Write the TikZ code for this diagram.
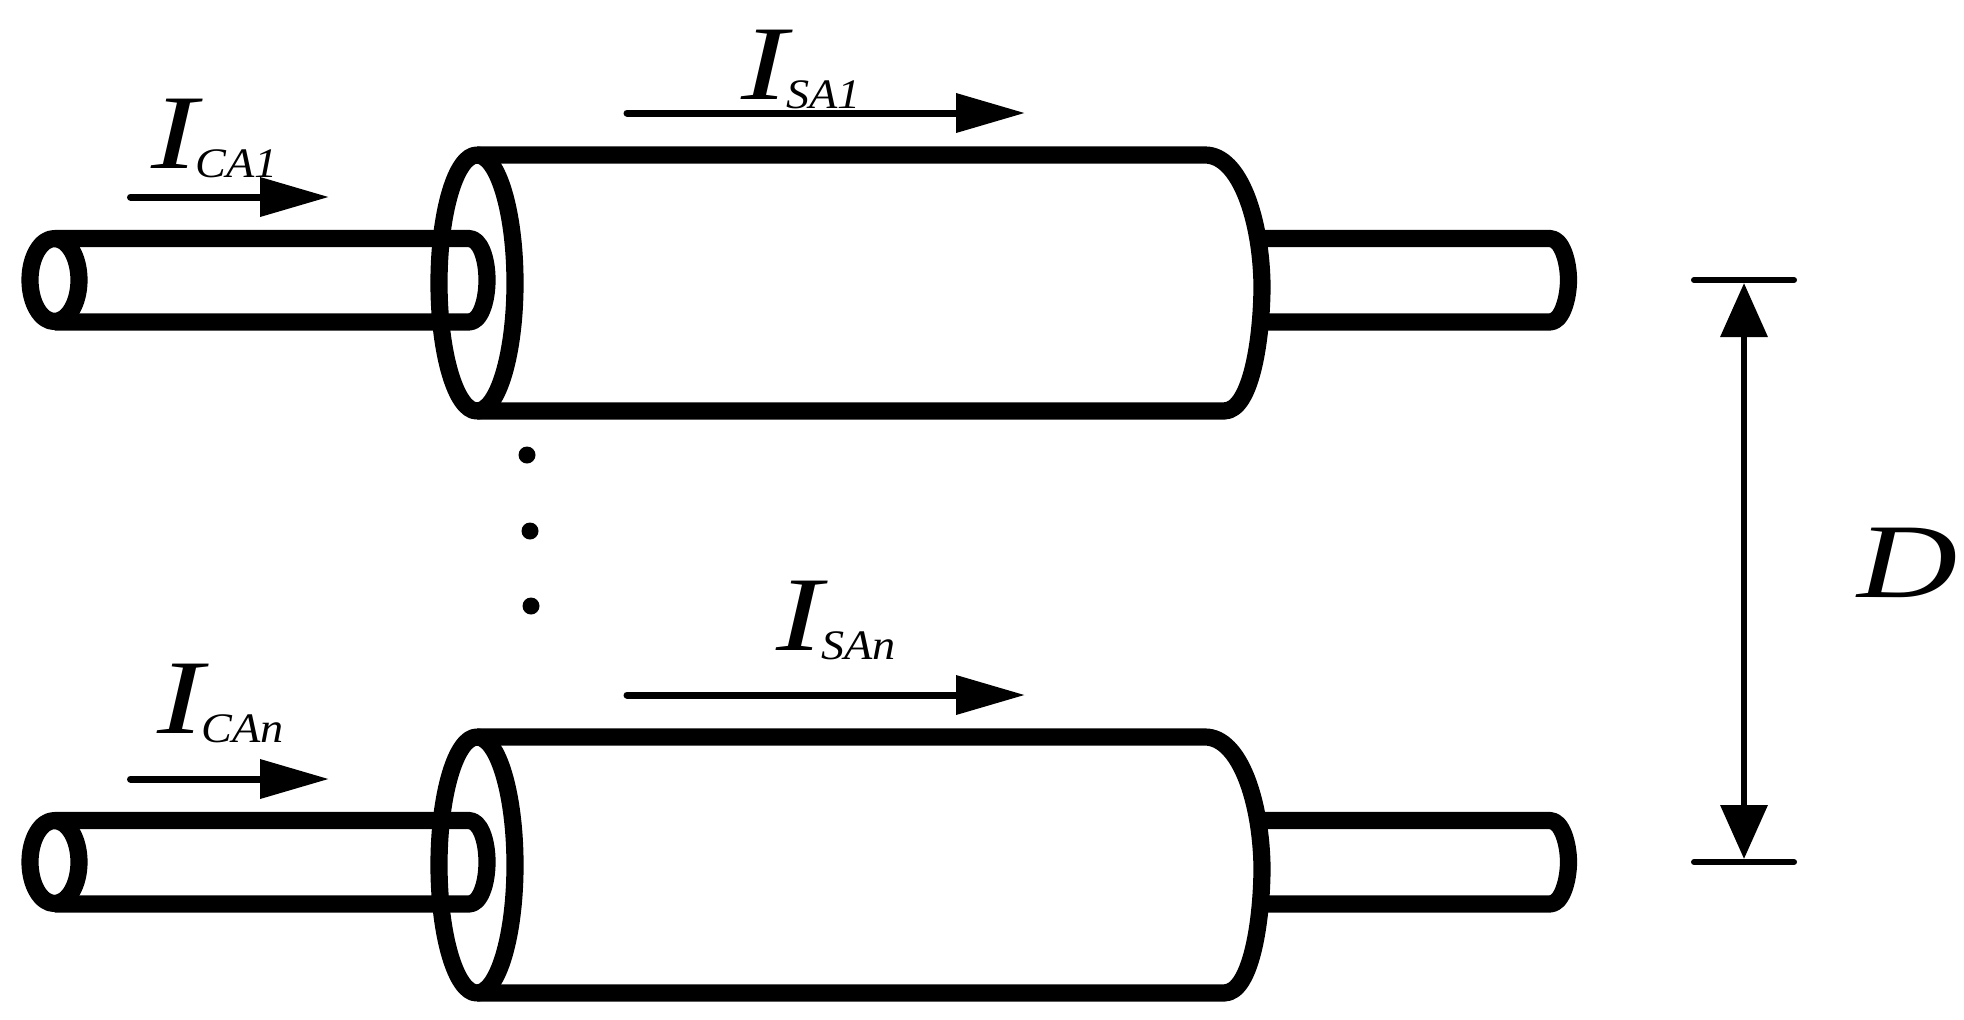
\documentclass[tikz,border=0pt]{standalone}
\usepackage{fontspec}
\usepackage{graphicx}
\setmainfont{Liberation Serif}
\usetikzlibrary{arrows.meta}
\newcommand{\bigI}[1]{\fontsize{53}{53}\selectfont\itshape\scalebox{1.31}[1]{#1}}
\newcommand{\subI}[1]{\fontsize{21}{21}\selectfont\itshape\scalebox{1.1}[1]{#1}}
\newcommand{\cableunit}{%
  % left tube
  \draw[wire] (54.5,280) ellipse [x radius=24.5,y radius=41.5];
  \draw[wire] (54.5,238.5) -- (469,238.5) .. controls (480,238.5) and (487,258) .. (487,280) .. controls (487,302) and (480,322) .. (469,322) -- (54.5,322);
  % big cylinder
  \draw[wire] (477,283) ellipse [x radius=38,y radius=128];
  \draw[wire] (477,155) -- (1205,155) .. controls (1240,155) and (1261,220) .. (1262,285) .. controls (1262,335) and (1252,411) .. (1224,411) -- (477,411);
  % right tube
  \draw[wire] (1262,238.5) -- (1550,238.5) .. controls (1562,238.5) and (1568.5,262) .. (1568.5,280) .. controls (1568.5,298) and (1562,322) .. (1550,322) -- (1262,322);
  % current arrows
  \coordinate (a1) at (130.5,197); \coordinate (a2) at (329,197);
  \coordinate (b1) at (627,113); \coordinate (b2) at (1025,113);
  \draw[current] (a1) -- (a2);
  \draw[current] (b1) -- (b2);
}
\tikzset{
  wire/.style={line width=8.6pt,line join=round,line cap=butt},
  current/.style={line width=3.5pt,line cap=round,-{Triangle[length=34.5pt,width=19pt]}},
  tick/.style={line width=3pt,line cap=round},
  dim/.style={line width=3.4pt,{Triangle[length=27pt,width=23pt]}-{Triangle[length=27pt,width=23pt]}},
  lbl/.style={inner sep=0pt,anchor=base west},
  dotmark/.style={circle,fill=black,inner sep=0pt,minimum size=8.5pt}
}
\begin{document}
\begin{tikzpicture}[x=0.5pt,y=-0.5pt]
\useasboundingbox (0,0) rectangle (1964,1019);
\cableunit
\begin{scope}[shift={(0,582)}]
\cableunit
\end{scope}
\node[dotmark] (d1) at (527,455) {};
\node[dotmark] (d2) at (530,531) {};
\node[dotmark] (d3) at (531,606) {};
\coordinate (t1l) at (1694,280); \coordinate (t1r) at (1794,280);
\coordinate (t2l) at (1694,862); \coordinate (t2r) at (1794,862);
\coordinate (t1) at (1744,283); \coordinate (t2) at (1744,859);
\draw[tick] (t1l) -- (t1r);
\draw[tick] (t2l) -- (t2r);
\draw[dim] (t1) -- (t2);
\node[lbl] (ica1) at (151,168) {\bigI{I}};
\node[lbl] (ica1s) at (195,177) {\subI{CA1}};
\node[lbl] (ican) at (157,733) {\bigI{I}};
\node[lbl] (icans) at (201,742) {\subI{CAn}};
\node[lbl] (isa1) at (741,99) {\bigI{I}};
\node[lbl] (isa1s) at (786,108) {\subI{SA1}};
\node[lbl] (isan) at (776,650) {\bigI{I}};
\node[lbl] (isans) at (821,659) {\subI{SAn}};
\node[lbl] (dd) at (1857,597) {\bigI{D}};
\end{tikzpicture}
\end{document}
